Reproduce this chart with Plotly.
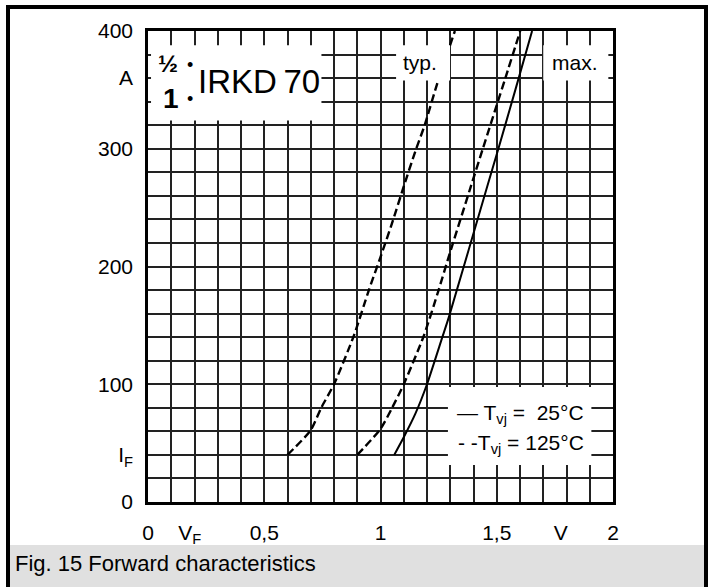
import plotly.graph_objects as go

# ---- data (V in volts, I in amperes) ----
typ_125_v = [0.60, 0.70, 0.745, 0.80, 0.885, 0.95, 1.00, 1.05, 1.10, 1.15, 1.19, 1.245, 1.32]
typ_125_i = [40, 61, 80, 100, 141, 180, 208, 237, 268, 298, 320, 356, 400]

max_125_v = [0.90, 1.00, 1.05, 1.10, 1.186, 1.25, 1.293, 1.387, 1.44, 1.537, 1.601]
max_125_i = [40, 62, 80, 100, 141, 180, 208, 267, 300, 360, 400]

max_25_v = [1.059, 1.10, 1.15, 1.20, 1.266, 1.294, 1.459, 1.507, 1.58, 1.652]
max_25_i = [40, 55, 75, 100, 140, 157, 268, 300, 350, 400]

x_tick_vals = [0, 0.18, 0.5, 1, 1.5, 1.775, 2]
x_tick_text = ["0", "V<sub>F</sub>", "0,5", "1", "1,5", "V", "2"]
y_tick_vals = [0, 40, 100, 200, 300, 360, 400]
y_tick_text = ["0", "I<sub>F</sub>", "100", "200", "300", "A", "400"]

FONT = "Liberation Sans, Arial, sans-serif"

W, H = 713, 587
L, R, T, B = 148, 100, 31, 85
PW, PH = W - L - R, H - T - B


def px_x(px):
    return (px - L) / PW


def px_y(py):
    return (H - B - py) / PH


fig = go.Figure()

dash_line = dict(color="black", width=2.4, dash="8px,4px", shape="spline", smoothing=0.6)
fig.add_trace(go.Scatter(x=typ_125_v, y=typ_125_i, mode="lines", line=dash_line,
                         showlegend=False, hoverinfo="skip"))
fig.add_trace(go.Scatter(x=max_125_v, y=max_125_i, mode="lines", line=dash_line,
                         showlegend=False, hoverinfo="skip"))
fig.add_trace(go.Scatter(x=max_25_v, y=max_25_i, mode="lines",
                         line=dict(color="black", width=2, shape="spline", smoothing=0.6),
                         showlegend=False, hoverinfo="skip"))
# carrier for the label axes
fig.add_trace(go.Scatter(x=[None], y=[None], xaxis="x2", yaxis="y2",
                         showlegend=False, hoverinfo="skip"))

shapes = []
# gray caption band and outer frame
shapes.append(dict(type="rect", xref="paper", yref="paper",
                   x0=px_x(10), x1=px_x(704), y0=px_y(545), y1=px_y(600),
                   fillcolor="#e0e0e0", line=dict(width=0), layer="below"))
shapes.append(dict(type="rect", xref="paper", yref="paper",
                   x0=px_x(8), x1=px_x(706), y0=px_y(7), y1=px_y(610),
                   fillcolor="rgba(0,0,0,0)", line=dict(color="black", width=4)))

# white label boxes over the grid
boxes = [
    (0.013, 0.746, 324, 388),   # IRKD 70
    (1.067, 1.299, 358, 388),   # typ.
    (1.70, 1.98, 358, 388),     # max.
    (1.29, 1.907, 31.5, 97.7),  # legend
]
for x0, x1, y0, y1 in boxes:
    shapes.append(dict(type="rect", xref="x", yref="y", x0=x0, x1=x1, y0=y0, y1=y1,
                       fillcolor="white", line=dict(width=0), layer="above"))

annotations = [
    dict(x=0.205, y=357, text="IRKD\u200970", font=dict(size=33, family=FONT),
         xanchor="left", yanchor="middle", showarrow=False),
    dict(x=0.086, y=372, text="<b>½</b>", font=dict(size=24, family=FONT),
         xanchor="center", yanchor="middle", showarrow=False),
    dict(x=0.10, y=343, text="<b>1</b>", font=dict(size=28, family=FONT),
         xanchor="center", yanchor="middle", showarrow=False),
    dict(x=0.18, y=371, text="•", font=dict(size=18, family=FONT),
         xanchor="center", yanchor="middle", showarrow=False),
    dict(x=0.18, y=342, text="•", font=dict(size=18, family=FONT),
         xanchor="center", yanchor="middle", showarrow=False),
    dict(x=1.17, y=373, text="typ.", font=dict(size=21, family=FONT),
         xanchor="center", yanchor="middle", showarrow=False),
    dict(x=1.837, y=373, text="max.", font=dict(size=21, family=FONT),
         xanchor="center", yanchor="middle", showarrow=False),
    dict(x=1.885, y=75, text="— T<sub>vj</sub> =\u00a0\u00a025°C", font=dict(size=21, family=FONT),
         xanchor="right", yanchor="middle", showarrow=False),
    dict(x=1.885, y=49, text="-\u00a0-T<sub>vj</sub> = 125°C", font=dict(size=21, family=FONT),
         xanchor="right", yanchor="middle", showarrow=False),
    dict(xref="paper", yref="paper", x=px_x(13), y=px_y(563),
         text="Fig. 15 Forward characteristics", font=dict(size=22, family=FONT),
         xanchor="left", yanchor="middle", showarrow=False),
]

grid_color = "#222222"
fig.update_layout(
    width=W, height=H,
    margin=dict(l=L, r=R, t=T, b=B),
    paper_bgcolor="white", plot_bgcolor="white",
    font=dict(family=FONT, color="black", size=21),
    xaxis=dict(range=[0, 2], tick0=0, dtick=0.1, showgrid=True, gridcolor=grid_color,
               gridwidth=1.6, showticklabels=False, ticks="", zeroline=False,
               showline=True, mirror=True, linecolor="black", linewidth=2.5),
    yaxis=dict(range=[0, 400], tick0=0, dtick=20, showgrid=True, gridcolor=grid_color,
               gridwidth=1.6, showticklabels=False, ticks="", zeroline=False,
               showline=True, mirror=True, linecolor="black", linewidth=2.5),
    xaxis2=dict(range=[0, 2], overlaying="x", anchor="y2", side="bottom",
                tickmode="array", tickvals=x_tick_vals, ticktext=x_tick_text,
                showgrid=False, zeroline=False, ticks="", showline=False,
                tickfont=dict(size=21, family=FONT), ticklabelstandoff=16),
    yaxis2=dict(range=[0, 400], overlaying="y", anchor="x2", side="left",
                tickmode="array", tickvals=y_tick_vals, ticktext=y_tick_text,
                showgrid=False, zeroline=False, ticks="", showline=False,
                tickfont=dict(size=21, family=FONT), ticklabelstandoff=14),
    shapes=shapes,
    annotations=annotations,
)

fig.write_html("out.html", config={"displayModeBar": False},
               post_script="document.body.style.margin='0';document.body.style.overflow='hidden';")
